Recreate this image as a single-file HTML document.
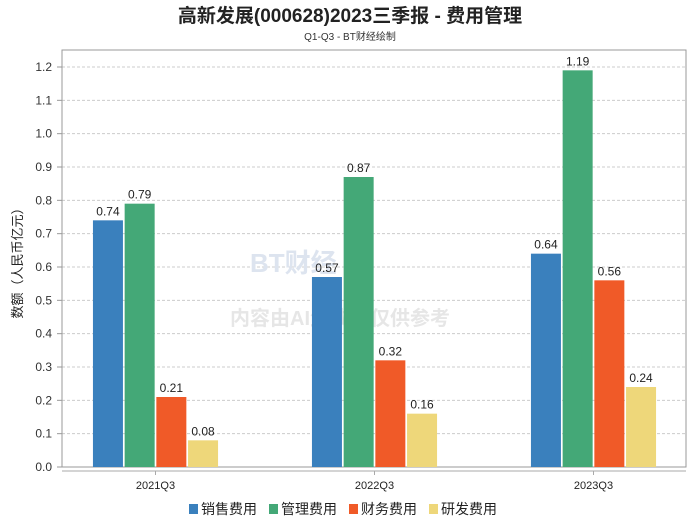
<!DOCTYPE html>
<html><head><meta charset="utf-8"><style>
body{margin:0;background:#fff;}
svg text{font-family:"Liberation Sans","Noto Sans CJK SC",sans-serif;}
</style></head><body>
<svg id="chart" width="700" height="524" xmlns="http://www.w3.org/2000/svg">
<rect width="700" height="524" fill="#fff"/>
<text x="350" y="22" text-anchor="middle" font-size="19" font-weight="bold" fill="#222">高新发展(000628)2023三季报 - 费用管理</text>
<text x="350" y="40" text-anchor="middle" font-size="10" fill="#333">Q1-Q3 - BT财经绘制</text>
<g id="grid"></g>
<rect x="62" y="50" width="624" height="417" fill="none" stroke="#999"/>
<line x1="62" y1="471" x2="686" y2="471" stroke="#aaa"/>
<text x="250" y="272" font-size="26" font-weight="bold" fill="#dde4ef">BT财经</text>
<text x="230" y="325" font-size="20" font-weight="bold" fill="#e6e6e6">内容由AI生成，仅供参考</text>
<text transform="translate(22,260) rotate(-90)" text-anchor="middle" font-size="13" fill="#222">数额（人民币亿元）</text>
<g id="bars"></g>
<g id="legend"></g>
</svg>
<script>
const categories=["2021Q3","2022Q3","2023Q3"];
const seriesNames=["销售费用","管理费用","财务费用","研发费用"];
const sales=[0.74,0.57,0.64];
const admin=[0.79,0.87,1.19];
const finance=[0.21,0.32,0.56];
const rnd=[0.08,0.16,0.24];
const yTicks=[0,0.1,0.2,0.3,0.4,0.5,0.6,0.7,0.8,0.9,1.0,1.1,1.2];
const colors=["#3a80bd","#44a877","#f05a28","#eed77a"];
const NS="http://www.w3.org/2000/svg";
const y=v=>467-v*333.33;
const xc=i=>155.5+i*219;
function mk(tag,attrs,parent){const e=document.createElementNS(NS,tag);for(const k in attrs)e.setAttribute(k,attrs[k]);parent.appendChild(e);return e;}
const grid=document.getElementById('grid');
yTicks.forEach(t=>{
  if(t>0){const l=mk('line',{x1:62,x2:686,y1:y(t),y2:y(t),stroke:'#ccc','stroke-dasharray':'3,2'},grid);
  
  }
  const tx=mk('text',{x:52,y:y(t)+4,'text-anchor':'end','font-size':12,fill:'#333'},grid);
  tx.textContent=t.toFixed(1);
  
  
  const tk=mk('line',{x1:57,x2:62,y1:y(t),y2:y(t),stroke:'#999'},grid);
  
  
});
const bars=document.getElementById('bars');
const series=[sales,admin,finance,rnd];
const bw=30,gap=1.7;
categories.forEach((c,i)=>{
  series.forEach((s,j)=>{
    const x=xc(i)-2*bw-1.5*gap+j*(bw+gap);
    const r=mk('rect',{x:x,y:y(s[i]),width:bw,height:467-y(s[i]),fill:colors[j]},bars);
    
    
    const t=mk('text',{x:x+bw/2,y:y(s[i])-5,'text-anchor':'middle','font-size':12,fill:'#222'},bars);
    t.textContent=s[i].toFixed(2);
    
    
  });
  const tk=mk('line',{x1:xc(i),x2:xc(i),y1:471,y2:475,stroke:'#aaa'},bars);
  
  
  const lt=mk('text',{x:xc(i),y:489,'text-anchor':'middle','font-size':11,fill:'#222'},bars);
  lt.textContent=c;
  
  
});
const lg=document.getElementById('legend');
const lx=[189,269,349,429];
seriesNames.forEach((n,j)=>{
  const g=mk('g',{},lg);
  
  
  mk('rect',{x:lx[j],y:504,width:9,height:10,fill:colors[j]},g);
  const t=mk('text',{x:lx[j]+12,y:514,'font-size':14,fill:'#222'},g);
  t.textContent=n;
});
</script>
</body></html>
